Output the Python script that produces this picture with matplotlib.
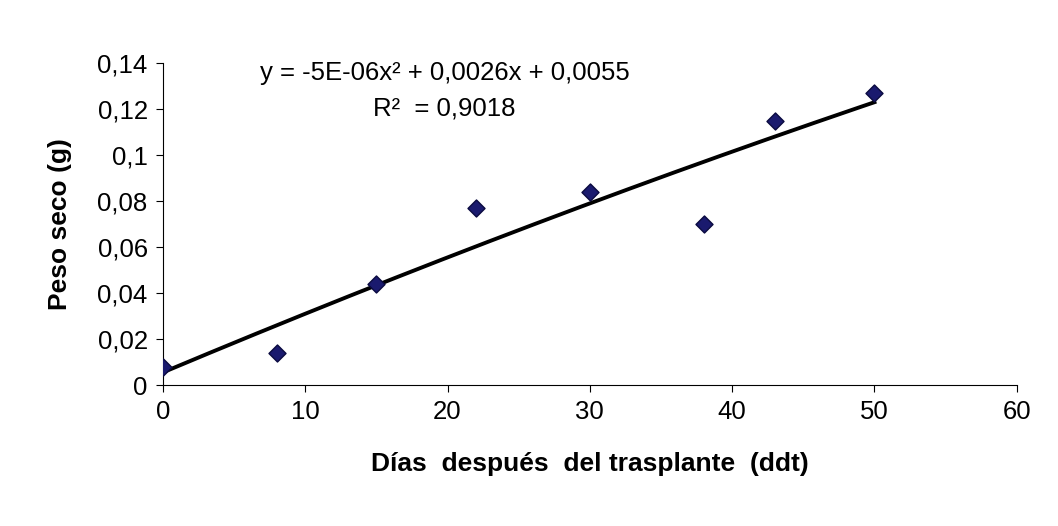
import matplotlib
matplotlib.use("Agg")
import matplotlib.pyplot as plt
import numpy as np

plt.rcParams['font.family'] = ['Liberation Sans', 'DejaVu Sans']

days = [0, 8, 15, 22, 30, 38, 43, 50]
peso = [0.008, 0.014, 0.044, 0.077, 0.084, 0.070, 0.115, 0.127]
coef = [-5e-6, 0.0026, 0.0055]
xticks = [0, 10, 20, 30, 40, 50, 60]
yticks = [0, 0.02, 0.04, 0.06, 0.08, 0.1, 0.12, 0.14]
ylabels = ['0', '0,02', '0,04', '0,06', '0,08', '0,1', '0,12', '0,14']

fig = plt.figure(figsize=(10.58, 5.26), dpi=100)
ax = fig.add_axes([0.154, 0.268, 0.807, 0.612])
xs = np.linspace(0, 50, 200)
ax.plot(xs, np.polyval(coef, xs), color='black', lw=2.8, zorder=2)
ax.scatter(days, peso, marker='D', s=75, color='#1a1a6e', edgecolor='#0a0a40', zorder=3)
ax.set_xlim(0, 60)
ax.set_ylim(0, 0.14)
ax.set_xticks(xticks)
ax.set_yticks(yticks)
ax.set_yticklabels(ylabels)
ax.tick_params(labelsize=18.5, direction='out', length=5, color='black', pad=6)
for s in ['top', 'right']:
    ax.spines[s].set_visible(False)
ax.set_xlabel('Días  después  del trasplante  (ddt)', fontsize=19, fontweight='bold', labelpad=20)
ax.set_ylabel('Peso seco (g)', fontsize=19, fontweight='bold', labelpad=18)
ax.text(0.33, 0.97, 'y = -5E-06x² + 0,0026x + 0,0055', transform=ax.transAxes,
        ha='center', va='center', fontsize=18.5)
ax.text(0.33, 0.86, 'R²  = 0,9018', transform=ax.transAxes,
        ha='center', va='center', fontsize=18.5)
fig.savefig('out.png', dpi=100, facecolor='white')
